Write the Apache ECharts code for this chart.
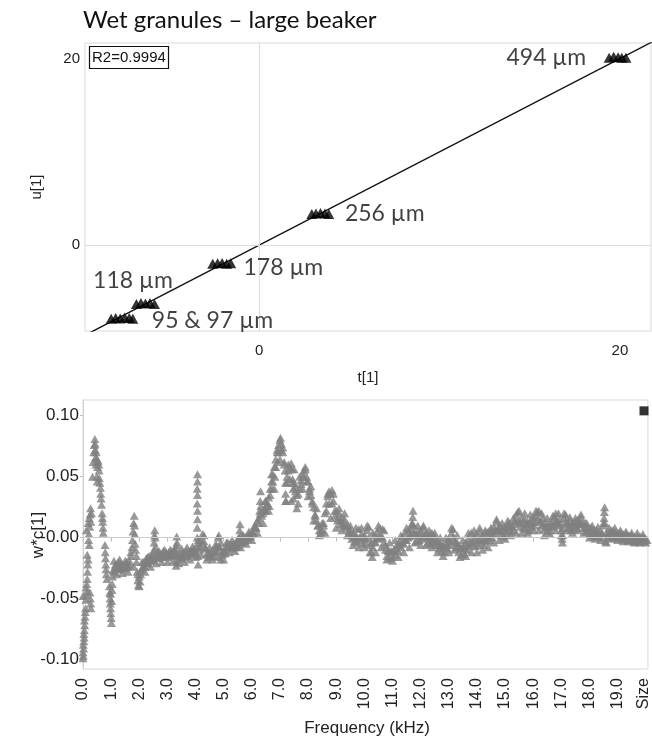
<!DOCTYPE html>
<html>
<head>
<meta charset="utf-8">
<script src="https://cdn.jsdelivr.net/npm/echarts@6/dist/echarts.min.js"></script>
<style>
  html, body { margin: 0; padding: 0; background: #fff; }
  #chart { width: 652px; height: 746px; }
</style>
</head>
<body>
<div id="chart"></div>
<script>
// ---------- score plot (t[1] vs u[1]) ----------
const chartTitle = 'Wet granules – large beaker';
const r2Text = 'R2=0.9994';
const sizeLabels = ['494 µm', '256 µm', '178 µm', '118 µm', '95 & 97 µm'];
const scores494 = [[19.40, 20.10], [19.65, 20.20], [19.90, 20.15], [20.10, 20.10], [20.33, 20.10]];
const scores256 = [[2.92, 3.35], [3.15, 3.40], [3.40, 3.45], [3.65, 3.40], [3.86, 3.35]];
const scores178 = [[-2.57, -2.00], [-2.30, -1.95], [-2.05, -1.90], [-1.80, -2.00], [-1.57, -1.95]];
const scores118 = [[-6.80, -6.30], [-6.55, -6.20], [-6.30, -6.25], [-6.05, -6.20], [-5.80, -6.30]];
const scores95 = [[-8.20, -7.90], [-7.95, -7.80], [-7.70, -7.85], [-7.45, -7.75], [-7.20, -7.80], [-7.00, -7.90]];
const fitLine = [[-9.70, -9.70], [21.80, 21.80]];
const scoreTicks = [0, 20];

// ---------- loading plot (w*c[1] vs frequency) ----------
const loadingsLow = [
  [0.00,-0.099],[0.01,-0.097],[0.00,-0.094],[0.02,-0.091],[0.01,-0.088],[0.03,-0.085],[0.04,-0.082],
  [0.03,-0.079],[0.05,-0.076],[0.06,-0.072],[0.05,-0.068],[0.07,-0.065],[0.08,-0.061],[0.09,-0.058],
  [0.00,-0.048],[0.10,-0.051],[0.12,-0.047],[0.14,-0.044],[0.11,-0.041],[0.13,-0.038],[0.15,-0.034],
  [0.16,-0.028],[0.17,-0.022],[0.18,-0.018],[0.15,-0.014],[0.25,-0.045],[0.26,-0.050],[0.27,-0.054],
  [0.28,-0.058],[0.12,0.006],[0.20,-0.002],[0.22,-0.006],[0.21,0.003],[0.18,0.012],[0.22,0.016],
  [0.25,0.019],[0.27,0.024],[0.28,0.013],[0.24,0.009],[0.30,0.020],
  [0.34,0.050],[0.36,0.062],[0.38,0.070],[0.40,0.076],[0.42,0.081],[0.43,0.077],[0.44,0.072],
  [0.45,0.066],[0.46,0.060],[0.47,0.070],[0.48,0.065],[0.50,0.062],[0.52,0.058],[0.49,0.050],
  [0.51,0.046],[0.54,0.063],[0.56,0.060],[0.57,0.055],[0.58,0.049],[0.60,0.045],[0.62,0.041],
  [0.63,0.036],[0.64,0.032],[0.66,0.027],[0.68,0.020],[0.69,0.016],[0.70,0.013],[0.71,0.008],
  [0.72,0.004],[0.78,-0.006],[0.79,-0.012],[0.80,-0.017],[0.81,-0.022],[0.82,-0.026],[0.83,-0.030],
  [0.85,-0.034],[0.94,-0.040],[0.95,-0.045],[0.96,-0.050],[0.97,-0.054],[0.98,-0.058],[0.99,-0.062],
  [1.00,-0.066],[1.01,-0.070],[0.98,-0.046],[1.02,-0.052],[1.03,-0.043],[1.04,-0.038],[1.05,-0.032],
  [1.06,-0.027]
];
const loadingsMid = [
  [1.10,-0.028],[1.15,-0.022],[1.20,-0.026],[1.25,-0.020],[1.30,-0.025],[1.35,-0.021],[1.40,-0.026],
  [1.45,-0.022],[1.50,-0.025],[1.55,-0.020],[1.60,-0.024],[1.65,-0.019],[1.70,-0.015],[1.74,-0.008],
  [1.76,-0.002],[1.78,0.005],[1.80,0.012],[1.82,0.018],[1.83,0.010],[1.84,0.003],[1.85,-0.005],
  [1.87,-0.010],[1.90,-0.015],[1.92,-0.028],[1.95,-0.035],[1.97,-0.039],[2.00,-0.032],[2.03,-0.036],
  [2.06,-0.027],[2.10,-0.025],[2.15,-0.020],[2.20,-0.024],[2.25,-0.017],[2.30,-0.021],[2.35,-0.015],
  [2.40,-0.019],[2.45,-0.014],[2.50,-0.018],[2.52,-0.010],[2.53,-0.004],[2.54,0.002],[2.55,0.006],
  [2.56,0.000],[2.58,-0.008],[2.60,-0.016],[2.65,-0.012],[2.70,-0.017],[2.75,-0.013],[2.80,-0.016],
  [2.85,-0.011],[2.90,-0.015],[2.95,-0.012],[3.00,-0.016],[3.05,-0.012],[3.10,-0.015],[3.15,-0.011],
  [3.20,-0.014],[3.25,-0.010],[3.30,-0.020],[3.31,-0.023],[3.32,-0.006],[3.33,0.001],[3.34,-0.004],
  [3.35,-0.014],[3.40,-0.018],[3.45,-0.013],[3.50,-0.017],[3.55,-0.012],[3.60,-0.016],[3.65,-0.011],
  [3.70,-0.015],[3.75,-0.011],[3.80,-0.014],[3.85,-0.010],[3.90,-0.013],[3.95,-0.009],[4.00,-0.012],
  [4.05,-0.008],[4.06,0.000],[4.06,0.008],[4.07,0.015],[4.07,0.022],[4.06,0.028],[4.07,0.035],
  [4.06,0.040],[4.07,0.046],[4.07,0.052],[4.08,-0.015],[4.09,-0.022],[4.10,-0.004],[4.15,-0.010],
  [4.20,-0.002],[4.25,0.003],[4.30,-0.003],[4.35,-0.009],[4.40,-0.013],[4.45,-0.016],[4.50,-0.012],
  [4.55,-0.015],[4.60,-0.011],[4.65,-0.015],[4.70,-0.011],[4.75,-0.006],[4.80,0.000],[4.83,0.002],
  [4.86,-0.008],[4.90,-0.018],[4.95,-0.014],[5.00,-0.010],[5.05,-0.013],[5.10,-0.008],[5.15,-0.004],
  [5.20,-0.008],[5.25,-0.005],[5.30,-0.009],[5.35,-0.005],[5.40,-0.008],[5.45,-0.004],[5.50,-0.007],
  [5.55,0.000],[5.57,0.006],[5.58,0.011],[5.60,0.002],[5.65,-0.004],[5.70,0.000],[5.75,-0.003],
  [5.80,0.001],[5.85,-0.001],[5.90,0.003],[5.95,0.001],[6.00,0.005],[6.05,0.004],[6.10,0.009],
  [6.15,0.008],[6.20,0.014]
];
const loadingsPeak = [
  [6.25,0.016],[6.28,0.022],[6.30,0.030],[6.31,0.038],[6.32,0.026],[6.35,0.018],[6.40,0.020],
  [6.45,0.024],[6.48,0.030],[6.50,0.022],[6.55,0.028],[6.60,0.033],[6.62,0.026],[6.65,0.040],
  [6.70,0.046],[6.72,0.040],[6.75,0.052],[6.80,0.058],[6.82,0.050],[6.85,0.064],[6.90,0.070],
  [6.92,0.062],[6.95,0.076],[7.00,0.080],[7.02,0.082],[7.05,0.077],[7.10,0.070],[7.15,0.062],
  [7.18,0.055],[7.20,0.045],[7.20,0.036],[7.22,0.030],[7.25,0.050],[7.30,0.055],[7.35,0.058],
  [7.40,0.061],[7.43,0.056],[7.45,0.048],[7.47,0.040],[7.48,0.032],[7.50,0.045],[7.55,0.042],
  [7.60,0.035],[7.65,0.028],[7.70,0.040],[7.75,0.047],[7.80,0.052],[7.85,0.055],[7.90,0.056],
  [7.95,0.050],[8.00,0.046],[8.05,0.040],[8.10,0.035],[8.15,0.030],[8.20,0.025],[8.25,0.019],
  [8.30,0.014],[8.35,0.010],[8.40,0.006],[8.45,0.004],[8.50,0.006],[8.55,0.012],[8.60,0.020],
  [8.65,0.028],[8.70,0.034],[8.75,0.038],[8.80,0.036],[8.85,0.039],[8.90,0.030],[8.95,0.022]
];
const loadingsHigh = [
  [9.00,0.022],[9.05,0.014],[9.10,0.020],[9.15,0.011],[9.20,0.017],[9.25,0.010],[9.30,0.015],
  [9.35,0.008],[9.40,0.011],[9.45,0.004],[9.50,0.006],[9.55,-0.001],[9.60,0.004],[9.65,-0.003],
  [9.70,0.002],[9.75,-0.004],[9.80,0.007],[9.85,-0.002],[9.90,0.003],[9.95,-0.005],[10.00,0.002],
  [10.05,-0.004],[10.10,0.006],[10.15,0.009],[10.20,-0.006],[10.25,-0.012],[10.28,-0.016],[10.30,-0.008],
  [10.35,0.002],[10.40,-0.004],[10.45,0.005],[10.50,-0.001],[10.55,0.008],[10.60,0.001],[10.65,0.007],
  [10.70,-0.004],[10.75,-0.010],[10.80,-0.015],[10.85,-0.011],[10.90,-0.017],[10.95,-0.012],[11.00,-0.016],
  [11.05,-0.010],[11.10,-0.014],[11.15,-0.006],[11.20,-0.011],[11.25,-0.003],[11.30,-0.008],[11.35,0.001],
  [11.40,-0.005],[11.45,0.004],[11.50,-0.002],[11.55,0.006],[11.60,0.001],[11.65,0.007],[11.70,0.011],
  [11.72,0.017],[11.73,0.022],[11.75,0.010],[11.80,0.004],[11.85,-0.003],[11.90,0.005],[11.95,-0.002],
  [12.00,0.006],[12.05,-0.001],[12.10,0.008],[12.15,0.001],[12.20,0.004],[12.25,-0.004],[12.30,0.002],
  [12.35,-0.005],[12.40,0.004],[12.45,-0.003],[12.50,0.001],[12.55,-0.006],[12.60,-0.002],[12.65,-0.009],
  [12.70,-0.004],[12.75,-0.011],[12.80,-0.006],[12.85,-0.012],[12.90,-0.004],[12.95,-0.009],[13.00,-0.001],
  [13.05,-0.006],[13.10,0.004],[13.15,0.007],[13.20,-0.002],[13.25,-0.008],[13.30,-0.004],[13.35,-0.012],
  [13.40,-0.008],[13.45,-0.014],[13.50,-0.007],[13.55,-0.013],[13.60,-0.004],[13.65,-0.010],[13.70,-0.001],
  [13.75,-0.007],[13.80,0.004],[13.85,-0.005],[13.90,0.001],[13.95,-0.007],[14.00,0.003],[14.05,-0.006],
  [14.10,0.005],[14.15,-0.004],[14.20,0.002],[14.25,-0.006],[14.30,0.004],[14.35,-0.003],[14.40,0.005],
  [14.45,-0.002],[14.50,0.006],[14.55,0.000],[14.60,0.009],[14.65,0.003],[14.70,0.013],[14.75,0.006],
  [14.80,0.010],[14.85,0.002],[14.90,0.008],[14.95,0.001],[15.00,0.009],[15.05,0.003],[15.10,0.011],
  [15.15,0.012],[15.20,0.005],[15.25,0.010],[15.30,0.006],[15.35,0.014],[15.40,0.019],[15.45,0.021],
  [15.50,0.013],[15.55,0.009],[15.60,0.016],[15.65,0.008],[15.70,0.015],[15.75,0.007],[15.80,0.013],
  [15.85,0.006],[15.90,0.014],[15.95,0.009],[16.00,0.017],[16.05,0.010],[16.10,0.018],[16.15,0.021],
  [16.20,0.022],[16.25,0.014],[16.30,0.010],[16.35,0.016],[16.40,0.007],[16.45,0.012],[16.50,0.005],
  [16.55,0.011],[16.60,0.006],[16.65,0.013],[16.70,0.009],[16.75,0.017],[16.80,0.020],[16.85,0.014],
  [16.90,0.010],[16.95,0.015],[17.00,0.006],[17.03,-0.001],[17.04,-0.004],[17.05,0.002],[17.10,0.016],
  [17.15,0.019],[17.20,0.012],[17.25,0.008],[17.30,0.014],[17.35,0.006],[17.40,0.012],[17.45,0.007],
  [17.50,0.013],[17.55,0.008],[17.60,0.015],[17.65,0.011],[17.70,0.017],[17.75,0.012],[17.80,0.008],
  [17.85,0.012],[17.90,0.005],[17.95,0.009],[18.00,0.003],[18.05,0.008],[18.10,0.002],[18.15,0.007],
  [18.20,0.001],[18.25,0.006],[18.30,0.001],[18.35,0.005],[18.40,0.000],[18.45,0.004],[18.50,0.010],
  [18.52,0.016],[18.53,0.021],[18.54,0.025],[18.55,0.012],[18.57,-0.003],[18.60,0.004],[18.65,0.000],
  [18.70,0.005],[18.75,0.001],[18.80,0.006],[18.85,0.001],[18.90,0.005],[18.95,0.000],[19.00,0.004],
  [19.05,0.000],[19.10,0.004],[19.15,-0.001],[19.20,0.003],[19.25,-0.001],[19.30,0.003],[19.35,-0.002],
  [19.40,0.002],[19.45,-0.002],[19.50,0.002],[19.55,-0.003],[19.60,0.001],[19.65,-0.003],[19.70,0.001],
  [19.75,-0.003],[19.80,0.001],[19.85,-0.002],[19.90,0.000],[19.95,-0.003],[20.00,-0.001],[20.05,-0.002]
];
// loadings lying along the upper and lower rims of the band
const loadingsUpperRim = [
  [1.1,-0.019],[1.3,-0.018],[1.5,-0.019],[1.7,-0.012],[1.9,-0.020],[2.1,-0.020],[2.3,-0.016],
  [2.5,-0.013],[2.7,-0.011],[2.9,-0.010],[3.1,-0.010],[3.3,-0.009],[3.5,-0.009],[3.7,-0.008],
  [3.9,-0.007],[4.1,-0.002],[4.3,0.002],[4.5,-0.008],[4.7,-0.006],[4.9,-0.004],[5.1,-0.004],
  [5.3,-0.002],[5.5,-0.001],[5.7,0.002],[5.9,0.005],[6.1,0.010],[6.3,0.020],[6.5,0.030],
  [6.7,0.052],[6.9,0.072],[7.1,0.074],[7.3,0.060],[7.5,0.056],[7.7,0.050],[7.9,0.058],
  [8.1,0.042],[8.3,0.024],[8.5,0.012],[8.7,0.036],[8.9,0.036],[9.1,0.024],[9.3,0.020],
  [9.5,0.010],[9.7,0.008],[9.9,0.008],[10.1,0.010],[10.3,0.004],[10.5,0.010],[10.7,0.006],
  [10.9,-0.004],[11.1,-0.002],[11.3,0.002],[11.5,0.008],[11.7,0.012],[11.9,0.010],[12.1,0.010],
  [12.3,0.006],[12.5,0.004],[12.7,0.000],[12.9,0.000],[13.1,0.008],[13.3,0.002],[13.5,-0.002],
  [13.7,0.004],[13.9,0.006],[14.1,0.008],[14.3,0.006],[14.5,0.008],[14.7,0.015],[14.9,0.012],
  [15.1,0.014],[15.3,0.016],[15.5,0.022],[15.7,0.020],[15.9,0.019],[16.1,0.022],[16.3,0.020],
  [16.5,0.016],[16.7,0.018],[16.9,0.020],[17.1,0.020],[17.3,0.017],[17.5,0.016],[17.7,0.019],
  [17.9,0.012],[18.1,0.010],[18.3,0.009],[18.5,0.012],[18.7,0.008],[18.9,0.008],[19.1,0.006],
  [19.3,0.005],[19.5,0.004],[19.7,0.004],[19.9,0.003]
];
const loadingsLowerRim = [
  [1.2,-0.030],[1.4,-0.029],[1.6,-0.028],[1.8,-0.024],[2.0,-0.040],[2.2,-0.028],[2.4,-0.024],
  [2.6,-0.021],[2.8,-0.020],[3.0,-0.020],[3.2,-0.019],[3.4,-0.021],[3.6,-0.020],[3.8,-0.018],
  [4.0,-0.016],[4.2,-0.014],[4.4,-0.018],[4.6,-0.018],[4.8,-0.016],[5.0,-0.018],[5.2,-0.012],
  [5.4,-0.011],[5.6,-0.008],[5.8,-0.005],[6.0,-0.002],[6.2,0.004],[6.4,0.012],[6.6,0.022],
  [6.8,0.040],[7.0,0.064],[7.2,0.030],[7.4,0.030],[7.6,0.024],[7.8,0.040],[8.0,0.034],
  [8.2,0.014],[8.4,0.002],[8.6,0.004],[8.8,0.016],[9.0,0.008],[9.2,0.006],[9.4,0.002],
  [9.6,-0.006],[9.8,-0.008],[10.0,-0.008],[10.2,-0.012],[10.4,-0.012],[10.6,-0.008],[10.8,-0.018],
  [11.0,-0.019],[11.2,-0.016],[11.4,-0.012],[11.6,-0.008],[11.8,-0.004],[12.0,-0.006],[12.2,-0.006],
  [12.4,-0.008],[12.6,-0.012],[12.8,-0.015],[13.0,-0.012],[13.2,-0.010],[13.4,-0.016],[13.6,-0.015],
  [13.8,-0.012],[14.0,-0.012],[14.2,-0.010],[14.4,-0.008],[14.6,-0.004],[14.8,-0.002],[15.0,-0.001],
  [15.2,0.002],[15.4,0.004],[15.6,0.004],[15.8,0.004],[16.0,0.006],[16.2,0.006],[16.4,0.002],
  [16.6,0.003],[16.8,0.006],[17.0,0.002],[17.2,0.006],[17.4,0.004],[17.6,0.006],[17.8,0.004],
  [18.0,0.000],[18.2,-0.001],[18.4,-0.002],[18.6,-0.004],[18.8,-0.001],[19.0,-0.002],[19.2,-0.003],
  [19.4,-0.003],[19.6,-0.004],[19.8,-0.004],[20.0,-0.004]
];
// loadings running through the middle of the band
const loadingsCore = [
  [1.15,-0.024],[1.25,-0.024],[1.35,-0.023],[1.45,-0.024],[1.55,-0.023],[1.65,-0.022],[1.95,-0.030],
  [2.05,-0.030],[2.15,-0.023],[2.25,-0.021],[2.35,-0.019],[2.45,-0.018],[2.65,-0.015],[2.75,-0.015],
  [2.85,-0.015],[2.95,-0.014],[3.05,-0.014],[3.15,-0.014],[3.25,-0.013],[3.35,-0.015],[3.45,-0.015],
  [3.55,-0.014],[3.65,-0.014],[3.75,-0.013],[3.85,-0.012],[3.95,-0.011],[4.15,-0.007],[4.25,-0.005],
  [4.35,-0.008],[4.45,-0.013],[4.55,-0.013],[4.65,-0.012],[4.75,-0.010],[4.85,-0.008],[4.95,-0.012],
  [5.05,-0.011],[5.15,-0.007],[5.25,-0.007],[5.35,-0.007],[5.45,-0.006],[5.55,-0.004],[5.65,-0.003],
  [5.75,-0.002],[5.85,0.000],[5.95,0.002],[6.05,0.004],[6.15,0.008],[6.25,0.012],[6.45,0.022],
  [6.55,0.026],[6.65,0.035],[6.75,0.046],[6.85,0.058],[6.95,0.070],[7.05,0.072],[7.15,0.060],
  [7.25,0.045],[7.35,0.048],[7.45,0.045],[7.55,0.038],[7.65,0.036],[7.75,0.044],[7.85,0.050],
  [7.95,0.046],[8.05,0.038],[8.15,0.028],[8.25,0.018],[8.35,0.010],[8.45,0.006],[8.55,0.010],
  [8.65,0.022],[8.75,0.028],[8.85,0.028],[8.95,0.018],[9.05,0.016],[9.15,0.014],[9.25,0.012],
  [9.35,0.010],[9.45,0.006],[9.55,0.002],[9.65,0.000],[9.75,0.000],[9.85,0.000],[9.95,0.000],
  [10.05,-0.001],[10.15,0.000],[10.25,-0.004],[10.35,-0.003],[10.45,0.000],[10.55,0.001],[10.65,0.000],
  [10.75,-0.006],[10.85,-0.010],[10.95,-0.011],[11.05,-0.011],[11.15,-0.009],[11.25,-0.006],[11.35,-0.004],
  [11.45,-0.002],[11.55,0.000],[11.65,0.002],[11.75,0.004],[11.85,0.002],[11.95,0.002],[12.05,0.002],
  [12.15,0.002],[12.25,0.000],[12.35,-0.001],[12.45,-0.002],[12.55,-0.004],[12.65,-0.006],[12.75,-0.007],
  [12.85,-0.008],[12.95,-0.006],[13.05,-0.003],[13.15,0.000],[13.25,-0.004],[13.35,-0.007],[13.45,-0.009],
  [13.55,-0.009],[13.65,-0.006],[13.75,-0.004],[13.85,-0.003],[13.95,-0.002],[14.05,-0.002],[14.15,-0.001],
  [14.25,-0.002],[14.35,0.000],[14.45,0.001],[14.55,0.003],[14.65,0.006],[14.75,0.007],[14.85,0.005],
  [14.95,0.006],[15.05,0.006],[15.15,0.008],[15.25,0.009],[15.35,0.011],[15.45,0.014],[15.55,0.012],
  [15.65,0.012],[15.75,0.011],[15.85,0.011],[15.95,0.012],[16.05,0.013],[16.15,0.015],[16.25,0.013],
  [16.35,0.011],[16.45,0.009],[16.55,0.009],[16.65,0.010],[16.75,0.012],[16.85,0.013],[16.95,0.011],
  [17.05,0.008],[17.15,0.013],[17.25,0.011],[17.35,0.010],[17.45,0.010],[17.55,0.011],[17.65,0.012],
  [17.75,0.011],[17.85,0.008],[17.95,0.006],[18.05,0.005],[18.15,0.004],[18.25,0.004],[18.35,0.003],
  [18.45,0.003],[18.65,0.002],[18.75,0.003],[18.85,0.003],[18.95,0.002],[19.05,0.002],[19.15,0.001],
  [19.25,0.001],[19.35,0.001],[19.45,0.000],[19.55,0.000],[19.65,-0.001],[19.75,-0.001],[19.85,-0.001],
  [19.95,-0.001]
];
const sizeLoading = [[19.94, 0.104]];
const freqTickValues = [0,1,2,3,4,5,6,7,8,9,10,11,12,13,14,15,16,17,18,19,19.94];
const freqTickLabels = ['0.0','1.0','2.0','3.0','4.0','5.0','6.0','7.0','8.0','9.0','10.0','11.0',
                        '12.0','13.0','14.0','15.0','16.0','17.0','18.0','19.0','Size'];
const loadTickValues = [-0.10, -0.05, 0, 0.05, 0.10];
const loadTickLabels = ['-0.10', '-0.05', '-0.00', '0.05', '0.10'];

// ---------- helpers ----------
const SANS = '"Liberation Sans", Arial, sans-serif';
const HUMAN = 'Lato, "Open Sans", sans-serif';
const scoreGroups = [scores494, scores256, scores178, scores118, scores95];
const centre = pts => [
  pts.reduce((s, p) => s + p[0], 0) / pts.length,
  pts.reduce((s, p) => s + p[1], 0) / pts.length
];
// pixel offsets of each size label from its cluster centre
const labelPlacement = [
  { position: [-31, 1], align: 'right' },
  { position: [25, 1], align: 'left' },
  { position: [22, 5], align: 'left' },
  { position: [-12, -22], align: 'center' },
  { position: [30, 3], align: 'left' }
];
const labelItems = scoreGroups.map((g, i) => ({
  value: centre(g),
  name: sizeLabels[i],
  label: {
    show: true,
    formatter: '{b}',
    position: labelPlacement[i].position,
    align: labelPlacement[i].align,
    verticalAlign: 'middle',
    fontFamily: HUMAN,
    fontSize: 23,
    color: '#111'
  }
}));
const tickLabel = (vals, labels) => v => {
  const i = vals.findIndex(x => Math.abs(x - v) < 1e-6);
  return i < 0 ? '' : labels[i];
};

const chart = echarts.init(document.getElementById('chart'), null, { renderer: 'canvas' });
chart.setOption({
  animation: false,
  backgroundColor: '#fff',
  title: [
    {
      text: chartTitle, left: 78, top: 3,
      textStyle: { fontFamily: HUMAN, fontSize: 24, fontWeight: 'normal', color: '#111' }
    },
    {
      text: r2Text, left: 89, top: 46, padding: [4, 3, 4, 3],
      borderColor: '#111', borderWidth: 1.2,
      textStyle: { fontFamily: SANS, fontSize: 15, fontWeight: 'normal', color: '#111' }
    }
  ],
  grid: [
    { left: 85, top: 43, right: 1, bottom: 415, show: true, borderColor: '#d8d8d8', borderWidth: 1 },
    { left: 83, top: 400, right: 1, bottom: 77, show: true, borderColor: '#d8d8d8', borderWidth: 1 }
  ],
  xAxis: [
    {
      gridIndex: 0, type: 'value', min: -9.65, max: 21.72,
      axisLine: { show: false }, splitLine: { show: false },
      axisTick: { show: false },
      axisLabel: {
        customValues: scoreTicks, margin: 12, fontFamily: SANS, fontSize: 15, color: '#222',
        formatter: tickLabel(scoreTicks, scoreTicks.map(String))
      }
    },
    {
      gridIndex: 1, type: 'value', min: 0, max: 20.08,
      axisLine: { show: true, lineStyle: { color: '#cfcfcf' } },
      splitLine: { show: false },
      axisTick: { show: true, customValues: freqTickValues, length: 4, lineStyle: { color: '#bdbdbd' } },
      axisLabel: {
        customValues: freqTickValues, rotate: 90, margin: 9,
        fontFamily: SANS, fontSize: 16, color: '#222',
        formatter: tickLabel(freqTickValues, freqTickLabels)
      }
    }
  ],
  yAxis: [
    {
      gridIndex: 0, type: 'value', min: -9.2, max: 21.67,
      axisLine: { show: false }, splitLine: { show: false },
      axisTick: { show: false },
      axisLabel: {
        customValues: scoreTicks, margin: 5, fontFamily: SANS, fontSize: 15, color: '#222',
        formatter: tickLabel(scoreTicks, scoreTicks.map(String))
      }
    },
    {
      gridIndex: 1, type: 'value', min: -0.1078, max: 0.1129,
      axisLine: { show: true, lineStyle: { color: '#cfcfcf' } },
      splitLine: { show: false },
      axisTick: { show: true, customValues: loadTickValues, length: 3, lineStyle: { color: '#bdbdbd' } },
      axisLabel: {
        customValues: loadTickValues, margin: 4, fontFamily: SANS, fontSize: 17, color: '#222',
        formatter: tickLabel(loadTickValues, loadTickLabels)
      }
    }
  ],
  graphic: [
    { type: 'text', x: 37, y: 187, rotation: Math.PI / 2,
      style: { text: 'u[1]', fontFamily: SANS, fontSize: 15, fill: '#222', align: 'center', verticalAlign: 'middle' } },
    { type: 'text', x: 368, y: 378,
      style: { text: 't[1]', fontFamily: SANS, fontSize: 15, fill: '#222', align: 'center', verticalAlign: 'middle' } },
    { type: 'text', x: 38, y: 535, rotation: Math.PI / 2,
      style: { text: 'w*c[1]', fontFamily: SANS, fontSize: 17, fill: '#222', align: 'center', verticalAlign: 'middle' } },
    { type: 'text', x: 367, y: 728,
      style: { text: 'Frequency (kHz)', fontFamily: SANS, fontSize: 17, fill: '#222', align: 'center', verticalAlign: 'middle' } }
  ],
  series: [
    {
      type: 'line', xAxisIndex: 0, yAxisIndex: 0, data: fitLine,
      symbol: 'none', lineStyle: { color: '#111', width: 1.4 }, z: 3,
      markLine: {
        silent: true, symbol: 'none', label: { show: false },
        lineStyle: { color: '#dcdcdc', width: 1, type: 'solid' },
        data: [{ xAxis: 0 }, { yAxis: 0 }]
      }
    },
    {
      type: 'scatter', xAxisIndex: 0, yAxisIndex: 0,
      data: [].concat(...scoreGroups),
      symbol: 'triangle', symbolSize: [11, 10],
      itemStyle: { color: '#000' }, z: 4
    },
    {
      type: 'scatter', xAxisIndex: 0, yAxisIndex: 0,
      data: labelItems, symbolSize: 1, itemStyle: { color: 'rgba(0,0,0,0)' }, z: 5
    },
    {
      type: 'line', xAxisIndex: 1, yAxisIndex: 1, data: [],
      markLine: {
        silent: true, symbol: 'none', label: { show: false },
        lineStyle: { color: '#cccccc', width: 1, type: 'solid' },
        data: [{ yAxis: 0 }]
      }
    },
    {
      type: 'scatter', xAxisIndex: 1, yAxisIndex: 1,
      data: [].concat(loadingsLow, loadingsMid, loadingsPeak, loadingsHigh,
                      loadingsUpperRim, loadingsLowerRim, loadingsCore),
      symbol: 'triangle', symbolSize: [9, 8],
      itemStyle: { color: '#808080' }, z: 3
    },
    {
      type: 'scatter', xAxisIndex: 1, yAxisIndex: 1, data: sizeLoading,
      symbol: 'rect', symbolSize: 9, clip: false,
      itemStyle: { color: '#000' }, z: 4
    }
  ]
});
</script>
</body>
</html>
